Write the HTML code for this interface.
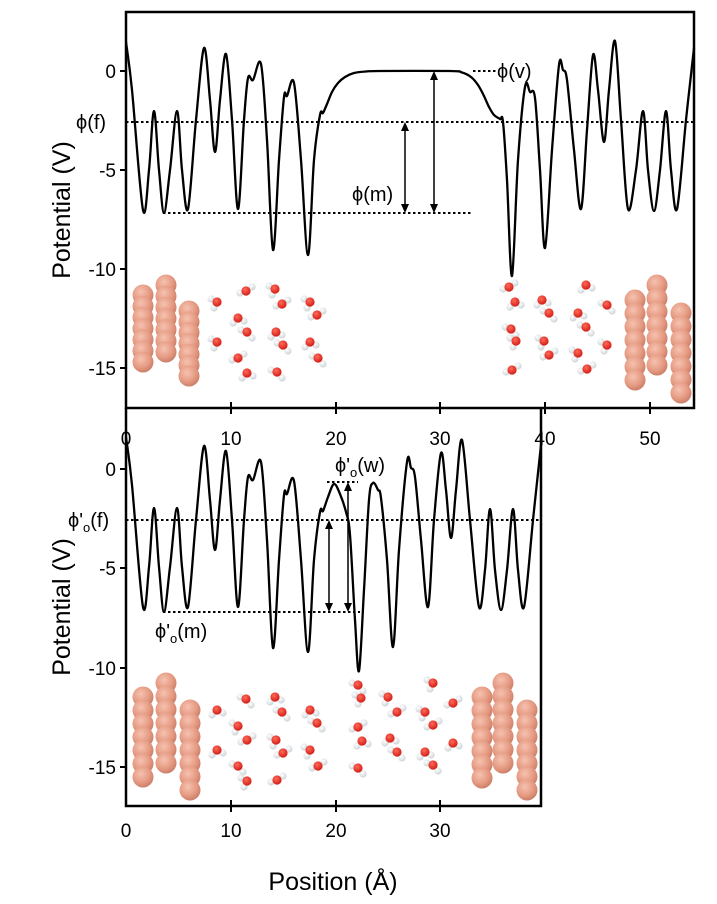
<!DOCTYPE html>
<html><head><meta charset="utf-8"><style>
html,body{margin:0;padding:0;background:#fff;}
svg{display:block;font-family:"Liberation Sans",sans-serif;}
</style></head><body>
<svg id="s" width="717" height="904" viewBox="0 0 717 904" xmlns="http://www.w3.org/2000/svg">
<defs>
<radialGradient id="cu" cx="0.4" cy="0.35" r="0.7"><stop offset="0" stop-color="#f6c2b0"/><stop offset="0.6" stop-color="#e59a82"/><stop offset="1" stop-color="#c87a64"/></radialGradient>
<radialGradient id="ox" cx="0.4" cy="0.35" r="0.7"><stop offset="0" stop-color="#ff6a5a"/><stop offset="1" stop-color="#d01810"/></radialGradient>
<radialGradient id="hy" cx="0.4" cy="0.35" r="0.7"><stop offset="0" stop-color="#ffffff"/><stop offset="1" stop-color="#c8d0d4"/></radialGradient>
</defs>
<g id="atoms"></g>
<rect x="126" y="12" width="568" height="396" fill="none" stroke="#000" stroke-width="2.5"/>
<path d="M126 408 V806 H541 V408" fill="none" stroke="#000" stroke-width="2.5"/>
<g id="ticks" stroke="#000" stroke-width="2"></g>
<g id="curves" fill="none" stroke="#000" stroke-width="2.3" stroke-linejoin="round"></g>
<g stroke="#000" stroke-width="2" stroke-dasharray="2.5,2.5" fill="none">
<line x1="126" y1="122" x2="694" y2="122"/>
<line x1="163" y1="213" x2="473" y2="213"/>
<line x1="473" y1="71" x2="497" y2="71"/>
<line x1="126" y1="520" x2="541" y2="520"/>
<line x1="163" y1="612" x2="360" y2="612"/>
<line x1="327" y1="482" x2="358" y2="482"/>
</g>
<g stroke="#000" stroke-width="1.5" fill="#000">
<line x1="434" y1="76" x2="434" y2="208"/><path d="M434 71 l-4 9 h8z M434 213 l-4 -9 h8z" stroke="none"/>
<line x1="405" y1="127" x2="405" y2="208"/><path d="M405 122 l-4 9 h8z M405 213 l-4 -9 h8z" stroke="none"/>
<line x1="329" y1="525" x2="329" y2="607"/><path d="M329 520 l-4 9 h8z M329 612 l-4 -9 h8z" stroke="none"/>
<line x1="348" y1="487" x2="348" y2="607"/><path d="M348 482 l-4 9 h8z M348 612 l-4 -9 h8z" stroke="none"/>
</g>
<g font-size="20" fill="#000">
<text x="497" y="78">ϕ(v)</text>
<text x="76" y="129">ϕ(f)</text>
<text x="352" y="201">ϕ(m)</text>
<text x="68" y="527">ϕ'<tspan font-size="13" dy="5">o</tspan><tspan dy="-5">(f)</tspan></text>
<text x="335" y="472">ϕ'<tspan font-size="13" dy="5">o</tspan><tspan dy="-5">(w)</tspan></text>
<text x="155" y="638">ϕ'<tspan font-size="13" dy="5">o</tspan><tspan dy="-5">(m)</tspan></text>
</g>
<g font-size="19" fill="#000" text-anchor="end">
<text x="116" y="78">0</text><text x="116" y="177">-5</text><text x="116" y="276">-10</text><text x="116" y="375">-15</text>
<text x="116" y="476">0</text><text x="116" y="575">-5</text><text x="116" y="675">-10</text><text x="116" y="774">-15</text>
</g>
<g font-size="19" fill="#000" text-anchor="middle">
<text x="126" y="445">0</text><text x="231" y="445">10</text><text x="336" y="445">20</text><text x="440" y="445">30</text><text x="545" y="445">40</text><text x="650" y="445">50</text>
<text x="126" y="837">0</text><text x="231" y="837">10</text><text x="336" y="837">20</text><text x="440" y="837">30</text>
</g>
<g font-size="25" fill="#000" text-anchor="middle">
<text transform="translate(70,210) rotate(-90)">Potential (V)</text>
<text transform="translate(70,607) rotate(-90)">Potential (V)</text>
<text x="333" y="890">Position (Å)</text>
</g>
</svg>
<script>
(function(){
var NS="http://www.w3.org/2000/svg";
function el(p,t,a){var e=document.createElementNS(NS,t);for(var k in a)e.setAttribute(k,a[k]);p.appendChild(e);return e;}
function cr(pts){var d="M"+pts[0][0]+" "+pts[0][1];for(var i=0;i<pts.length-1;i++){var p0=pts[Math.max(0,i-1)],p1=pts[i],p2=pts[i+1],p3=pts[Math.min(pts.length-1,i+2)];var t=6;d+=" C"+(p1[0]+(p2[0]-p0[0])/t).toFixed(1)+" "+(p1[1]+(p2[1]-p0[1])/t).toFixed(1)+" "+(p2[0]-(p3[0]-p1[0])/t).toFixed(1)+" "+(p2[1]-(p3[1]-p1[1])/t).toFixed(1)+" "+p2[0]+" "+p2[1];}return d;}
var upper=[[126,42],[132,90],[143,210],[149,170],[154,111],[159,170],[164,213],[170,170],[177,111],[182,170],[188,209],[196,120],[204,48],[210,100],[215,152],[220,100],[226,54],[232,120],[238,209],[244,120],[248,78],[253,80],[261,64],[267,140],[273,250],[279,160],[284,97],[287,96],[294,83],[301,160],[308,255],[314,160],[320,115],[323,113],[327,104],[332,92],[338,83],[345,77],[354,73],[366,71.5],[380,71],[450,71],[462,72.5],[471,77],[478,85],[484,96],[489,107],[494,115],[500,119],[503,122],[507,180],[512,276],[518,160],[525,87],[530,92],[535,98],[540,170],[545,248],[552,150],[559,65],[563,70],[567,80],[574,150],[581,209],[587,130],[593,55],[598,90],[604,142],[609,90],[615,41],[621,120],[628,209],[636,170],[643,111],[648,170],[654,211],[660,170],[666,111],[671,170],[677,209],[686,120],[694,48]];
var lower=[[126,437],[132,485],[143,607],[149,567],[154,508],[159,567],[164,612],[170,567],[177,508],[182,567],[188,607],[196,520],[204,446],[210,500],[215,550],[220,500],[226,451],[232,520],[238,607],[244,520],[248,477],[253,480],[261,462],[267,540],[273,648],[279,560],[284,495],[287,494],[294,481],[301,560],[308,652],[314,560],[320,512],[323,511],[328,497],[334,484],[340,494],[346,512],[350,535],[355,620],[359,671],[364,590],[369,500],[373,483],[378,490],[381,498],[387,560],[393,647],[399,550],[407,462],[411,468],[415,477],[421,540],[428,607],[434,520],[441,453],[446,490],[451,538],[456,490],[462,440],[470,520],[479,607],[485,570],[490,509],[495,570],[501,610],[507,570],[513,509],[518,570],[524,607],[533,520],[541,445]];
var cg=document.getElementById("curves");
el(cg,"path",{d:cr(upper)});el(cg,"path",{d:cr(lower)});
var tg=document.getElementById("ticks");
[71,170,269,368,469,568,668,767].forEach(function(y){el(tg,"line",{x1:120,y1:y,x2:126,y2:y});});
[231,336,440,545,650].forEach(function(x){el(tg,"line",{x1:x,y1:402,x2:x,y2:414});});
[231,336,440].forEach(function(x){el(tg,"line",{x1:x,y1:800,x2:x,y2:812});});
var ag=document.getElementById("atoms");
function col(x,y0,y1){var n=7;for(var i=0;i<n;i++){var y=y0+(y1-y0)*i/(n-1);el(ag,"circle",{cx:x,cy:y,r:10.5,fill:"url(#cu)"});}}
col(143,295,362);col(166,285,352);col(189,311,376);
col(635,300,380);col(657,285,365);col(681,313,393);
col(143,697,777);col(166,683,763);col(190,710,790);
col(482,697,778);col(503,683,763);col(527,710,790);
var hoff=[[[-6,-3],[-3,6]],[[6,-4],[-6,2]],[[-5,5],[6,3]],[[5,6],[-6,-2]]];
function water(x,y,k){var h=hoff[k%4];h.forEach(function(o){el(ag,"circle",{cx:x+o[0],cy:y+o[1],r:3.6,fill:"url(#hy)"});});el(ag,"circle",{cx:x,cy:y,r:4.6,fill:"url(#ox)"});}
var tl=[[217,302],[246,291],[238,318],[247,332],[275,289],[282,304],[276,332],[283,345],[310,302],[317,315],[310,342],[318,358],[217,342],[238,358],[247,373],[277,372]];
tl.forEach(function(p,i){water(p[0],p[1],i);});
var tr=[[509,287],[515,302],[511,329],[516,341],[512,370],[542,300],[549,313],[544,341],[549,355],[578,313],[586,327],[578,353],[587,369],[586,285],[607,305],[607,345]];
tr.forEach(function(p,i){water(p[0],p[1],i+1);});
tl.forEach(function(p,i){water(p[0],p[1]+408,i+2);});
var br=[[358,685],[361,698],[358,727],[362,741],[358,768],[388,697],[397,712],[390,738],[397,752],[425,712],[433,725],[425,752],[433,765],[433,683],[453,703],[453,743]];
br.forEach(function(p,i){water(p[0],p[1],i+3);});
})();
</script>
</body></html>
